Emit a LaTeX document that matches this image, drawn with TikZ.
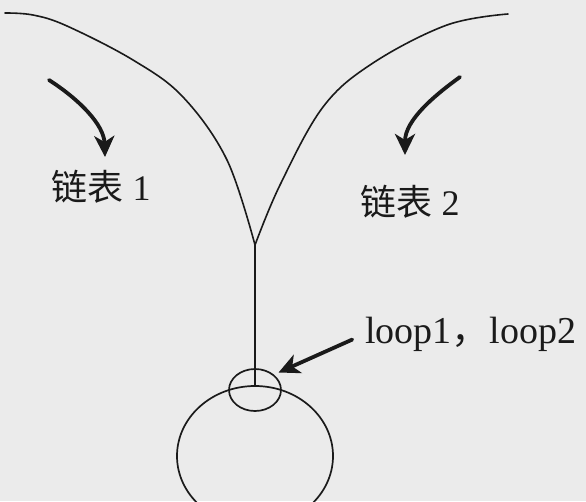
\documentclass[tikz,border=0pt]{standalone}
\usepackage{fontspec}
\setmainfont{Liberation Serif}
\newfontfamily\cjk{Noto Sans CJK SC}
\usetikzlibrary{arrows.meta,positioning,shapes.geometric}
\definecolor{bgray}{HTML}{EBEBEB}
\definecolor{ink}{HTML}{1A1A1A}

\begin{document}
\begin{tikzpicture}[x=1pt, y=-1pt, line join=round, line cap=round,
  thin line/.style={draw=ink,line width=1.6pt},
  loop node/.style={ellipse,draw=ink,line width=1.7pt,inner sep=0pt},
  big arrow/.style={draw=ink,line width=3.8pt,-{Stealth[length=21pt,width=20pt,inset=6pt]}},
  label node/.style={font=\fontsize{36}{40}\selectfont,inner sep=0pt,text=ink}]
\useasboundingbox (0,0) rectangle (586,501);
\fill[bgray] (0,0) rectangle (586,501);
\clip (0,0) rectangle (586,501);
\begin{scope}
\coordinate (merge) at (255,245);
\coordinate (arr1) at (49,80);
\coordinate (tip1) at (105,157);
\coordinate (arr2) at (460,77);
\coordinate (tip2) at (405,155);
\node[loop node,minimum width=52pt,minimum height=42pt] (small) at (255,390) {};
\node[loop node,minimum width=156pt,minimum height=140pt] (big) at (255,456) {};
\node[label node] (list1) at (101,187) {{\cjk 链表}~1};
\node[label node] (list2) at (410,202) {{\cjk 链表}~2};
\node[label node,font=\fontsize{38}{42}\selectfont,anchor=base west] (loops) at (365,343) {loop1{\cjk ，}loop2};
\end{scope}
\begin{scope}
\draw[thin line] plot[smooth,tension=0.6] coordinates {(5,13) (33,15) (67,26) (133,60) (183,97) (227,160) (255,245)};
\draw[thin line] plot[smooth,tension=0.6] coordinates {(255,245) (280,185) (323,107) (373,63) (447,25) (508,14)};
\draw[thin line] (merge) -- (big.north);
\draw[big arrow] (arr1) .. controls (80,100) and (104,125) .. (tip1);
\draw[big arrow] (arr2) .. controls (435,95) and (405,120) .. (tip2);
\draw[big arrow,shorten <=14pt,shorten >=5pt] (loops.west) -- (small.north east);
\end{scope}
\end{tikzpicture}
\end{document}
